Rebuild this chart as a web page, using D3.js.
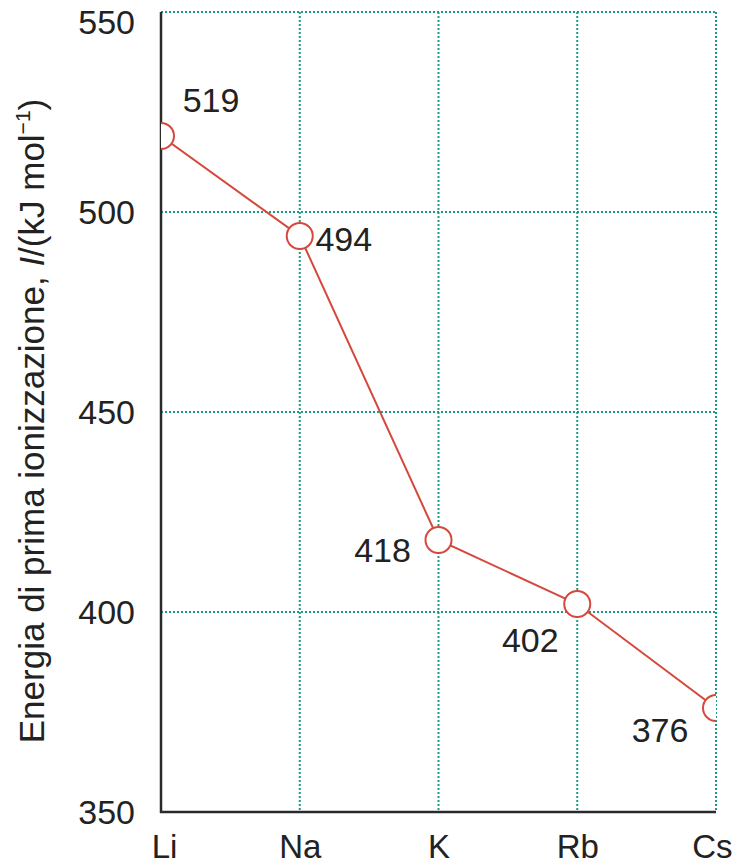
<!DOCTYPE html>
<html><head><meta charset="utf-8">
<script src="https://cdn.jsdelivr.net/npm/d3@7"></script>
<style>
body{margin:0;background:#fff;}
text{font-family:"Liberation Sans",Arial,sans-serif;fill:#222;}
</style></head>
<body><svg id="c" width="734" height="868"></svg>
<script>
const elements = ["Li","Na","K","Rb","Cs"];
const energies = [519,494,418,402,376];
const yTicks = [350,400,450,500,550];
const labelDx = [50,44,-56,-47,-56];
const labelDy = [-36,3,10,36,22];

const svg = d3.select("#c");
const m = {left:161, right:716, top:12, bottom:812};
const x = d3.scalePoint().domain(elements).range([m.left, m.right]);
const y = d3.scaleLinear().domain([350,550]).range([m.bottom, m.top]);

svg.append("defs").append("clipPath").attr("id","clip")
  .append("rect").attr("x",m.left).attr("y",m.top-20)
  .attr("width",m.right-m.left).attr("height",m.bottom-m.top+20);

const grid = svg.append("g");
const gc = "#1f9a86";
grid.selectAll("line.h").data(yTicks.filter(d=>d>350)).join("line")
  .attr("x1",m.left).attr("x2",m.right).attr("y1",d=>y(d)).attr("y2",d=>y(d))
  .attr("stroke",gc).attr("stroke-width",2).attr("stroke-dasharray","2,2");
grid.selectAll("line.v").data(elements.slice(1)).join("line")
  .attr("x1",d=>x(d)).attr("x2",d=>x(d)).attr("y1",m.top).attr("y2",m.bottom)
  .attr("stroke",gc).attr("stroke-width",2).attr("stroke-dasharray","2,2");

// axes
const yAxis = svg.append("g").attr("transform",`translate(${m.left},0)`)
  .call(d3.axisLeft(y).tickValues(yTicks).tickSize(0).tickPadding(26));
yAxis.select(".domain").remove();
yAxis.selectAll("text").attr("font-size",34).attr("fill","#222")
  .attr("font-family","Liberation Sans, Arial, sans-serif")
  .attr("dy", d => d===550 ? "0.62em" : "0.34em");
const xAxis = svg.append("g").attr("transform",`translate(0,${m.bottom})`)
  .call(d3.axisBottom(x).tickSize(0).tickPadding(23));
xAxis.select(".domain").remove();
xAxis.selectAll("text").attr("font-size",33).attr("fill","#222")
  .attr("font-family","Liberation Sans, Arial, sans-serif")
  .attr("text-anchor", (d,i,n) => i===n.length-1 ? "end" : "middle")
  .attr("x", (d,i,n) => i===n.length-1 ? 16 : (i===0 ? 3 : 0));

svg.append("line").attr("x1",m.left).attr("x2",m.left).attr("y1",m.top).attr("y2",m.bottom+1)
  .attr("stroke","#2a2a2a").attr("stroke-width",2.5);
svg.append("line").attr("x1",m.left-1).attr("x2",m.right).attr("y1",m.bottom).attr("y2",m.bottom)
  .attr("stroke","#2a2a2a").attr("stroke-width",2.5);

// series
const data = elements.map((e,i)=>({e, v:energies[i], i}));
const col = "#d6473c";
const plot = svg.append("g").attr("clip-path","url(#clip)");
plot.append("path").datum(data)
  .attr("d", d3.line().x(d=>x(d.e)).y(d=>y(d.v)))
  .attr("fill","none").attr("stroke",col).attr("stroke-width",2);
plot.selectAll("circle").data(data).join("circle")
  .attr("cx",d=>x(d.e)).attr("cy",d=>y(d.v)).attr("r",13)
  .attr("fill","#fff").attr("stroke",col).attr("stroke-width",2);

svg.selectAll("text.val").data(data).join("text").attr("class","val")
  .attr("x",d=>x(d.e)+labelDx[d.i]).attr("y",d=>y(d.v)+labelDy[d.i])
  .attr("text-anchor","middle").attr("dominant-baseline","central")
  .attr("font-size",34).text(d=>d.v);

// y title
const t = svg.append("text")
  .attr("transform",`translate(44,421) rotate(-90)`)
  .attr("text-anchor","middle").attr("font-size",35);
t.append("tspan").text("Energia di prima ionizzazione, ");
t.append("tspan").attr("font-style","italic").text("I");
t.append("tspan").text("/(kJ mol");
t.append("tspan").attr("font-size",21).attr("dy",-14).text("−1");
t.append("tspan").attr("dy",14).text(")");
</script></body></html>
